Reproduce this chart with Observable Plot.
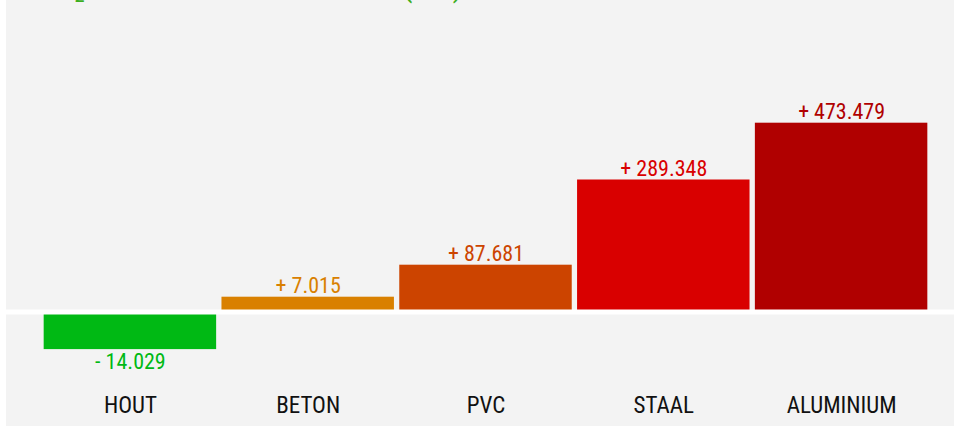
<!DOCTYPE html>
<html>
<head>
<meta charset="utf-8">
<script src="https://cdn.jsdelivr.net/npm/d3@7"></script>
<script src="https://cdn.jsdelivr.net/npm/@observablehq/plot@0.6"></script>
<style>
  html, body { margin: 0; padding: 0; background: #ffffff; overflow: hidden; }
  #panel { position: relative; margin-left: 6px; width: 948px; height: 426px; background: #f3f3f3; overflow: hidden; }
  #title { position: absolute; left: 31px; top: -26px; font-family: Roboto, sans-serif; font-size: 28px; line-height: 28px; color: #3cae1e; white-space: nowrap; margin: 0; }
  svg { display: block; }
</style>
</head>
<body>
<div id="panel">
  <div id="title">CO₂-uitstoot bouwmaterialen (ton)</div>
  <div id="chart"></div>
</div>
<script>
const materials = ["HOUT", "BETON", "PVC", "STAAL", "ALUMINIUM"];
const barLengths = [-94, 37, 117, 330, 472];
const valueLabels = ["- 14.029", "+ 7.015", "+ 87.681", "+ 289.348", "+ 473.479"];
const palette = ["#00b914", "#d98000", "#cc4400", "#d90000", "#b00000"];

const data = materials.map((m, i) => ({material: m, value: barLengths[i], label: valueLabels[i]}));
const fontFam = "'Roboto Condensed', 'Liberation Sans Narrow', 'Arial Narrow', Roboto, sans-serif";

const chart = Plot.plot({
  width: 948,
  height: 426,
  marginLeft: 35,
  marginRight: 24,
  marginTop: 111.5,
  marginBottom: 30,
  style: {background: "transparent", fontFamily: fontFam, fontSize: "23px", color: "#111"},
  x: {domain: materials, paddingInner: 0.03, paddingOuter: 0.015, round: false, axis: null},
  y: {domain: [-211.25, 500], axis: null},
  color: {domain: materials, range: palette},
  marks: [
    Plot.barY(data, {x: "material", y: "value", fill: "material"}),
    Plot.ruleY([0], {stroke: "white", strokeWidth: 5, insetLeft: -35, insetRight: -24}),
    Plot.text(data.filter(d => d.value > 0), {x: "material", y: "value", text: "label", fill: "material", fontSize: 22, dy: -11.5}),
    Plot.text(data.filter(d => d.value < 0), {x: "material", y: "value", text: "label", fill: "material", fontSize: 22, dy: 12.5}),
    Plot.axisX({tickSize: 0, tickPadding: 0, fontSize: 23, fill: "#111", label: null})
  ]
});
document.getElementById("chart").appendChild(chart);
</script>
</body>
</html>
